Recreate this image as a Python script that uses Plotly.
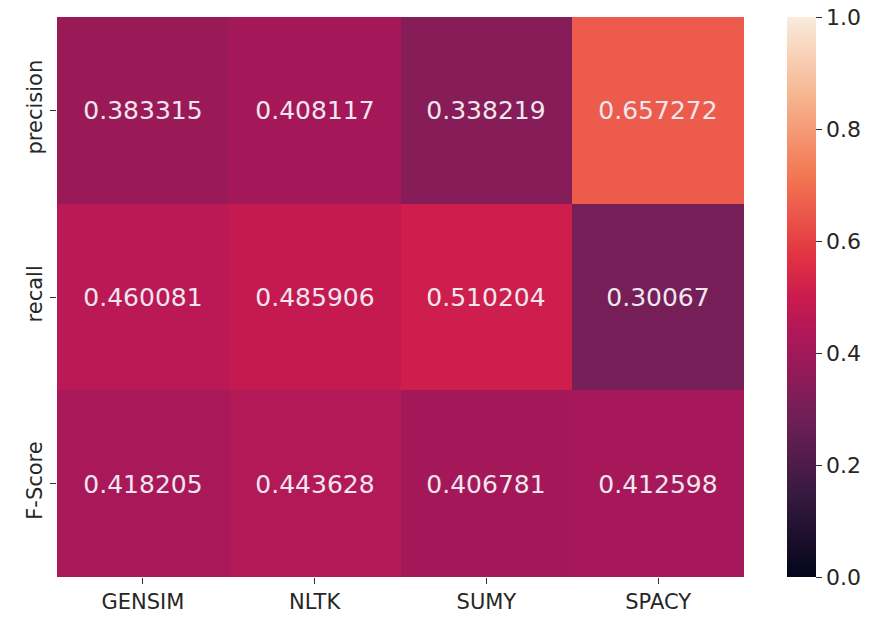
import plotly.graph_objects as go

libraries = ["GENSIM", "NLTK", "SUMY", "SPACY"]
metrics = ["precision", "recall", "F-Score"]
precision = [0.383315, 0.408117, 0.338219, 0.657272]
recall = [0.460081, 0.485906, 0.510204, 0.30067]
fscore = [0.418205, 0.443628, 0.406781, 0.412598]
labels_precision = ["0.383315", "0.408117", "0.338219", "0.657272"]
labels_recall = ["0.460081", "0.485906", "0.510204", "0.30067"]
labels_fscore = ["0.418205", "0.443628", "0.406781", "0.412598"]

z = [precision, recall, fscore]
text = [labels_precision, labels_recall, labels_fscore]

rocket = [
    [0.0, "#03051a"],
    [0.1429, "#35193e"],
    [0.2857, "#701f57"],
    [0.4286, "#ad1759"],
    [0.5, "#cb1b4f"],
    [0.5714, "#e13342"],
    [0.7143, "#f37651"],
    [0.8571, "#f6b48f"],
    [1.0, "#faebdd"],
]

fig = go.Figure(go.Heatmap(
    z=z, x=libraries, y=metrics, text=text, texttemplate="%{text}",
    textfont=dict(family="DejaVu Sans", size=25, color="#f0e6ee"),
    colorscale=rocket, zmin=0, zmax=1, xgap=0, ygap=0,
    colorbar=dict(
        xref="container", x=787/880, xanchor="left", xpad=0, ypad=0,
        thickness=29, len=1.0, lenmode="fraction", y=0.5, yanchor="middle",
        outlinewidth=0, tickvals=[0, 0.2, 0.4, 0.6, 0.8, 1.0],
        ticktext=["0.0", "0.2", "0.4", "0.6", "0.8", "1.0"],
        ticklabeloverflow="allow",
        ticks="outside", ticklen=6, tickwidth=1.2, tickcolor="#333",
        tickfont=dict(family="DejaVu Sans", size=22, color="#262626"),
    ),
))

fig.update_layout(
    width=880, height=627,
    margin=dict(l=57, r=136, t=17, b=50, autoexpand=False),
    paper_bgcolor="white", plot_bgcolor="white",
    font=dict(family="DejaVu Sans", color="#262626"),
)
fig.update_xaxes(showgrid=False, zeroline=False, ticks="outside", ticklen=6,
                 tickwidth=1.2, tickcolor="#333",
                 tickfont=dict(size=21, color="#262626"))
fig.update_yaxes(showgrid=False, zeroline=False, autorange="reversed",
                 ticks="outside", ticklen=6, tickwidth=1.2, tickcolor="#333",
                 tickangle=-90, tickfont=dict(size=21, color="#262626"))

fig.write_html("out.html", config={"displayModeBar": False},
               post_script="document.body.style.margin='0';document.body.style.overflow='hidden';")
